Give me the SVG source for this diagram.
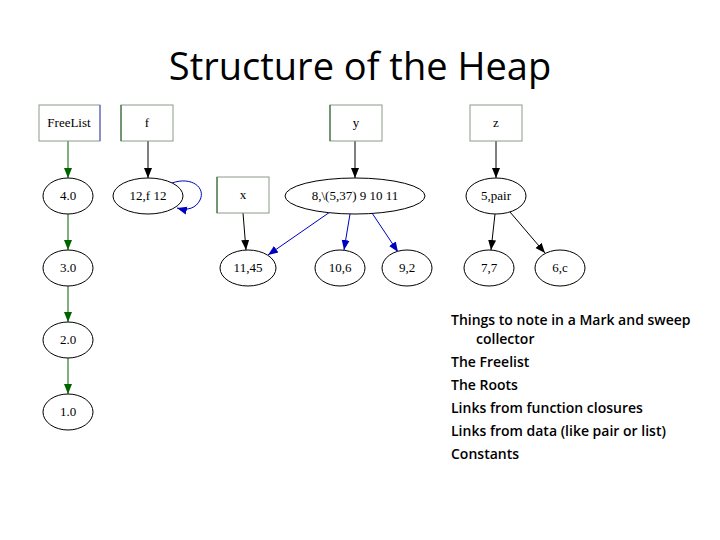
<svg xmlns="http://www.w3.org/2000/svg" width="720" height="540" viewBox="0 0 720 540">
<style>
.box{fill:#fff;stroke:#8a9a8a;stroke-width:1}
.ell{fill:#fff;stroke:#000;stroke-width:1}
.lbl{font-family:"Liberation Serif",serif;font-size:13px;fill:#000;text-anchor:middle}
.title{font-family:"Open Sans","Liberation Sans",sans-serif;font-size:38px;fill:#000;text-anchor:middle}
.note{font-family:"Open Sans","Liberation Sans",sans-serif;font-size:14px;font-weight:600;fill:#000}
.e-black{stroke:#000;stroke-width:1;fill:none;marker-end:url(#ab)}
.e-green{stroke:#006400;stroke-width:1;fill:none;marker-end:url(#ag)}
.e-blue{stroke:#0000c0;stroke-width:1;fill:none;marker-end:url(#abl)}
</style>
<defs>
<marker id="ab" viewBox="0 0 10 10" refX="10" refY="5" markerWidth="10" markerHeight="10" markerUnits="userSpaceOnUse" orient="auto"><path d="M0,1 L10,5 L0,9 z" fill="#000"/></marker>
<marker id="ag" viewBox="0 0 10 10" refX="10" refY="5" markerWidth="10" markerHeight="10" markerUnits="userSpaceOnUse" orient="auto"><path d="M0,1 L10,5 L0,9 z" fill="#006400"/></marker>
<marker id="abl" viewBox="0 0 10 10" refX="10" refY="5" markerWidth="10" markerHeight="10" markerUnits="userSpaceOnUse" orient="auto"><path d="M0,1 L10,5 L0,9 z" fill="#0000c0"/></marker>
</defs>
<rect width="720" height="540" fill="#fff"/>
<text class="title" x="360" y="80">Structure of the Heap</text>

<g id="connectors">
<line class="e-green" x1="68" y1="141" x2="68" y2="178"/>
<line class="e-green" x1="68" y1="214" x2="68" y2="250"/>
<line class="e-green" x1="68" y1="286" x2="68" y2="322"/>
<line class="e-green" x1="68" y1="358" x2="68" y2="394"/>
<line class="e-black" x1="148" y1="141" x2="148" y2="178"/>
<path class="e-blue" d="M172,183 C192,176 206,188 200,200 C196,208 188,211 177,208"/>
<line class="e-black" x1="355" y1="141" x2="355" y2="178"/>
<line class="e-black" x1="243" y1="213" x2="246" y2="250"/>
<line class="e-blue" x1="330" y1="212" x2="268" y2="255"/>
<line class="e-blue" x1="350" y1="214" x2="344" y2="250"/>
<line class="e-blue" x1="372" y1="213" x2="398" y2="252"/>
<line class="e-black" x1="496" y1="141" x2="496" y2="178"/>
<line class="e-black" x1="495" y1="214" x2="491" y2="250"/>
<line class="e-black" x1="510" y1="212" x2="545" y2="253"/>
</g>

<g id="n-freelist"><rect class="box" x="39" y="105" width="61" height="36"/><line x1="100" y1="105" x2="100" y2="141" stroke="#5050d0"/><text class="lbl" x="69" y="127">FreeList</text></g>
<g id="n-f"><rect class="box" x="121" y="105" width="52" height="36"/><line x1="121" y1="105" x2="121" y2="141" stroke="#206020"/><text class="lbl" x="147" y="127">f</text></g>
<g id="n-y"><rect class="box" x="330" y="105" width="52" height="36"/><line x1="330" y1="105" x2="330" y2="141" stroke="#206020"/><text class="lbl" x="356" y="127">y</text></g>
<g id="n-z"><rect class="box" x="470" y="105" width="52" height="36"/><text class="lbl" x="496" y="127">z</text></g>
<g id="n-x"><rect class="box" x="217" y="177" width="52" height="36"/><line x1="217" y1="177" x2="217" y2="213" stroke="#206020"/><text class="lbl" x="243" y="199">x</text></g>

<g id="n-4"><ellipse class="ell" cx="68" cy="196" rx="25" ry="18"/><text class="lbl" x="68" y="200">4.0</text></g>
<g id="n-3"><ellipse class="ell" cx="68" cy="268" rx="25" ry="18"/><text class="lbl" x="68" y="272">3.0</text></g>
<g id="n-2"><ellipse class="ell" cx="68" cy="340" rx="25" ry="18"/><text class="lbl" x="68" y="344">2.0</text></g>
<g id="n-1"><ellipse class="ell" cx="68" cy="412" rx="25" ry="18"/><text class="lbl" x="68" y="416">1.0</text></g>
<g id="n-12"><ellipse class="ell" cx="148" cy="196" rx="35" ry="18"/><text class="lbl" x="148" y="200">12,f 12</text></g>
<g id="n-8"><ellipse class="ell" cx="355" cy="196" rx="70" ry="18"/><text class="lbl" x="355" y="200">8,\(5,37) 9 10 11</text></g>
<g id="n-5"><ellipse class="ell" cx="496" cy="196" rx="30" ry="18"/><text class="lbl" x="496" y="200">5,pair</text></g>
<g id="n-11"><ellipse class="ell" cx="248" cy="268" rx="28" ry="18"/><text class="lbl" x="248" y="272">11,45</text></g>
<g id="n-10"><ellipse class="ell" cx="340" cy="268" rx="25" ry="18"/><text class="lbl" x="340" y="272">10,6</text></g>
<g id="n-9"><ellipse class="ell" cx="407" cy="268" rx="25" ry="18"/><text class="lbl" x="407" y="272">9,2</text></g>
<g id="n-7"><ellipse class="ell" cx="489" cy="268" rx="25" ry="18"/><text class="lbl" x="489" y="272">7,7</text></g>
<g id="n-6"><ellipse class="ell" cx="560" cy="268" rx="25" ry="18"/><text class="lbl" x="560" y="272">6,c</text></g>

<g id="notes">
<text class="note" x="451" y="325">Things to note in a Mark and sweep</text>
<text class="note" x="476" y="344">collector</text>
<text class="note" x="451" y="367">The Freelist</text>
<text class="note" x="451" y="390">The Roots</text>
<text class="note" x="451" y="413">Links from function closures</text>
<text class="note" x="451" y="436">Links from data (like pair or list)</text>
<text class="note" x="451" y="459">Constants</text>
</g>
</svg>
